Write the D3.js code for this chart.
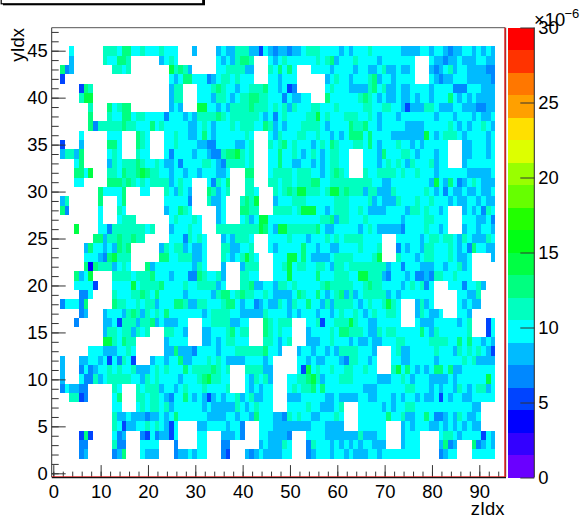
<!DOCTYPE html>
<html>
<head>
<meta charset="utf-8">
<script src="https://cdn.jsdelivr.net/npm/d3@7"></script>
<style>
  html, body { margin: 0; padding: 0; background: #fff; }
  text { font-family: "Liberation Sans", Arial, sans-serif; fill: #000; }
</style>
</head>
<body>
<svg id="chart"></svg>
<script>
var width = 584;
var height = 518;

// ylabels of the filled rows, top row first
var rowIds = [45,44,43,42,41,40,39,38,37,36,35,34,33,32,31,30,29,28,27,26,25,24,
              23,22,21,20,19,18,17,16,15,14,13,12,11,10,9,8,7,6,5,4,3,2];
var colFirst = 2;
var colLast = 93;

// one string per row, columns 2..93 in blocks of ten. "." = empty bin,
// a digit = colour band
var cellRows = [
  "..6......7 7768866766 67666...5. ...5655777 5536545545 5677766665 6566676666 6655556656 6545566565 65",
  "..5......7 66887..... .5676..... ...6565788 7...656766 6666767856 6676666566 66666...65 5455655566 55",
  "845....... .7767..... ...97875.. ...6677775 5...768686 ...6666566 6656655675 56556...54 5675665555 44",
  "3......... .......... ...6568866 6456776766 6...665666 ......5676 6566678566 56666...65 4556665555 54",
  "....387... .......... ...577...6 6678766566 7778665634 ......6766 6555578675 5655666656 6664446665 55",
  "....799... .......... ...577...6 6657765677 8877666465 566...8666 6667876565 5655656656 6686565655 55",
  "......7... 86788..... ...565...9 9665657777 8777676757 6667766676 6666776677 6653555776 5556655544 55",
  "......8... 7668867766 6646665657 7778767777 7765646766 6677967666 7776676566 6566666665 6665666565 56",
  "......8477 7778776668 6766666556 7656667677 7668756566 6777765666 6877866566 6665555666 6676565667 65",
  "....6..... 666...876. ..66766556 8656666667 6...657666 7766766565 6888686666 5555555965 6777656666 56",
  "3...5..... 886...876. ..66766665 5446666556 7...767867 6665676876 6677686566 6766565666 66...55666 56",
  "57758..... 676...766. ..64666656 6544788976 7...668667 6567656776 6...666586 6677656665 66...55666 56",
  "...68..... 5767778766 7655646666 7765477776 7...668665 5665656776 6...666567 6765766675 66...56666 66",
  "...8869... 7768778987 7665665665 666556...8 8...677776 7776656787 6...766777 7676676665 6666665555 56",
  "...66..... 8887876767 77756766.. .64768...7 7...776776 7778866777 7777776655 6666666659 6586456765 55",
  "........86 6668...66. ..765765.. .87567...7 76...76787 9977767997 8777577555 7666666765 6465565565 56",
  "57......8. ..68...... ..666664.. .7556...78 79...56667 7766666677 7666675655 5766676676 6656556656 55",
  "84......6. ..76...... ..566876.. ...56...88 77...77776 7999665677 7667655556 6665776766 56...56564 76",
  "........6. ..6777.... ...6766676 ...56...67 5699666666 6666677857 7666766666 6656666776 66...66655 64",
  "...9....66 4777777767 ...5666766 ...7777777 7798659977 7777865566 6665676555 5546666766 56...56656 65",
  ".......885 77877877.. ...6664767 6...565777 6...666676 6656667676 77776666.. .666665677 6776576555 76",
  ".....58665 65878..... .576775655 6...775566 7...656666 6866566556 66676667.. .465665776 6676564866 55",
  ".....66654 89777..... .886677755 6...765679 76...66699 6865555677 77666679.. .766656776 6676556... .5",
  ".....82877 75676...85 6666666657 6...5...57 77...66796 7766776577 6777777775 6646665556 6566756... ..",
  "...8569... .777767778 6665666448 76675...77 66...66696 6666866677 7669977754 6665644547 7667666... ..",
  "...66663.. .666696777 7866667667 77756...77 8556657767 6666678777 7766787766 665676746. ..66646675 ..",
  "....446... .766677876 8666665666 6657886787 7667655556 8766865678 5756777775 656666666. ....66557. ..",
  "466648.... .877667677 5666887557 7666788656 6456557657 6686657577 7765676679 76...5756. ....65655. ..",
  "....45...5 6665787576 7686666666 5677776655 5557666656 5666566567 6676567667 76...57655 6...665... ..",
  "...4.....5 5637775778 5655566... 6677775566 ...876777. ..66736677 7976655666 66...65556 6666567... 36",
  ".........5 776775767. ..77665... 5566678677 ...876766. ..56666768 8777655767 7666668657 6666667... 36",
  ".........9 976877.... ..56666... 5565677666 ...776567. ..55566766 6565565566 6776666677 7766868665 65",
  "......6665 556676.... ..55855546 6665666777 7778665... 5665665657 7776665... 6755666667 6665767676 53",
  "5...556656 364763...5 6656685566 6767655556 66656..... 6656556665 4776656... 6655666665 6666676755 55",
  "5...464566 7676675556 7676668677 778767...7 77755..... 6396766766 7766766... 7968656568 8685566666 66",
  "5...644756 7777766576 7666656667 897766...6 57675...66 7789756667 7766666555 6676566655 5565666666 96",
  "465544.... .76...7677 7566567666 766667...6 56566...67 6778686666 6666555666 6667766656 5665765677 56",
  "..7734.... .68...7767 7654668656 5356566756 75566...55 5666665565 5556655666 5656656556 3656655666 66",
  ".......... .66...6767 7675666666 5655555765 67666...66 6676655567 ...6666656 5667766666 666666655. ..",
  ".......... .755655545 5656866666 6555566566 5866655476 7665566676 ...6666668 6675566864 456576556. ..",
  ".......... .763556676 76536....5 566665664. ..66655555 5556665555 ...666666. ..56566655 656565655. ..",
  "....383... .645...436 45536....6 6...55564. ..6655554. ..66665555 555755566. ..5666.... 6776566663 65",
  "....44.... .744...666 6...4....6 6...44.... ..5655576. ..47666565 656566555. ..5666.... 5845...845 65",
  "....45.... .458...655 5...455656 6...43...5 456555566. ..45666566 5655566566 666666.... 4566...666 66"
];

// value (in 1e-6) at the middle of each band code that occurs
var bandValues = { "2": 3.75, "3": 5.25, "4": 6.75, "5": 8.25, "6": 9.75, "7": 11.25, "8": 12.75, "9": 14.25 };

var bandColors = ["#6a00ff", "#3300ff", "#0000ff", "#0044ff", "#0088ff", "#00bbff", "#00ffff",
  "#00ffc0", "#00ff80", "#00ff44", "#00ff15", "#22ff00", "#66ff00", "#99ff00", "#ddff00",
  "#ffe000", "#ffa000", "#ff7700", "#ff3300", "#ff0000"];

var xMajor = [0, 10, 20, 30, 40, 50, 60, 70, 80, 90];
var yMajor = [0, 5, 10, 15, 20, 25, 30, 35, 40, 45];
var zMajor = [0, 5, 10, 15, 20, 25, 30];

var labelSize = "18.4px";

var svg = d3.select("#chart")
  .attr("width", width)
  .attr("height", height)
  .style("display", "block");

// axis scales, fitted to the tick marks
var x = d3.scaleLinear().domain([0, 90]).range([53.3, 479.3]);
var y = d3.scaleLinear().domain([0, 45]).range([473.3, 50.7]);
var z = d3.scaleLinear().domain([0, 30]).range([477.5, 27.5]);

// the bins do not sit quite on the axis numbers, so they get their own band scales
var xBin = d3.scaleBand().domain(d3.range(colFirst, colLast + 1)).range([60, 495.3]);
var yBin = d3.scaleBand().domain(rowIds).range([46.3, 458.7]);
var color = d3.scaleQuantize().domain([0, 30]).range(bandColors);

var cells = [];
cellRows.forEach(function(row, i) {
  var codes = row.replace(/ /g, "");
  d3.range(colFirst, colLast + 1).forEach(function(col, j) {
    var c = codes[j];
    if (c && c !== ".") {
      cells.push({ col: col, row: rowIds[i], value: bandValues[c] });
    }
  });
});

svg.append("g").selectAll("rect")
  .data(cells)
  .enter().append("rect")
  .attr("x", function(d) { return xBin(d.col); })
  .attr("y", function(d) { return yBin(d.row); })
  .attr("width", xBin.bandwidth())
  .attr("height", yBin.bandwidth())
  .attr("shape-rendering", "crispEdges")
  .style("fill", function(d) { return color(d.value); });

// palette
var paletteX = 507.5;
var paletteW = 26.8;
svg.append("g").selectAll("rect")
  .data(bandColors)
  .enter().append("rect")
  .attr("x", paletteX)
  .attr("y", function(d, i) { return z((i + 1) * 1.5); })
  .attr("width", paletteW)
  .attr("height", z(0) - z(1.5))
  .attr("shape-rendering", "crispEdges")
  .style("fill", function(d) { return d; });

// frame
var frameL = 51.7, frameR = 505, frameT = 27.7, frameB = 477;
svg.append("line").attr("x1", frameL).attr("x2", frameR).attr("y1", frameT).attr("y2", frameT)
  .style("stroke", "#555").style("stroke-width", 1);
svg.append("line").attr("x1", frameR + 0.7).attr("x2", frameR + 0.7).attr("y1", frameT).attr("y2", frameB)
  .style("stroke", "#333").style("stroke-width", 1);
svg.append("line").attr("x1", frameR).attr("x2", frameR).attr("y1", frameT).attr("y2", frameB)
  .style("stroke", "#e01010").style("stroke-width", 1.4);

function styleAxis(g) {
  g.select(".domain").remove();
  g.selectAll("line").style("stroke", "#333").style("stroke-width", 1);
  g.selectAll("text").style("font-size", labelSize).style("fill", "#000");
}

svg.append("g")
  .attr("transform", "translate(0," + (frameB + 0.6) + ")")
  .call(d3.axisBottom(x).tickValues(d3.range(0, 96, 2)).tickSizeInner(-6).tickFormat(""))
  .call(styleAxis);
svg.append("g")
  .attr("transform", "translate(0," + (frameB + 0.6) + ")")
  .call(d3.axisBottom(x).tickValues(xMajor).tickSizeInner(-12.5).tickPadding(7).tickFormat(d3.format("d")))
  .call(styleAxis)
  .call(function(g) { g.selectAll("text").attr("dy", "0.71em"); });

svg.append("g")
  .attr("transform", "translate(" + frameL + ",0)")
  .call(d3.axisLeft(y).tickValues(d3.range(0, 48)).tickSizeInner(-7).tickFormat(""))
  .call(styleAxis);
svg.append("g")
  .attr("transform", "translate(" + frameL + ",0)")
  .call(d3.axisLeft(y).tickValues(yMajor).tickSizeInner(-14).tickPadding(4).tickFormat(d3.format("d")))
  .call(styleAxis);

svg.append("line").attr("x1", frameL).attr("x2", frameL).attr("y1", frameT).attr("y2", frameB)
  .style("stroke", "#333").style("stroke-width", 1);
svg.append("line").attr("x1", frameL).attr("x2", frameR + 1).attr("y1", frameB - 0.4).attr("y2", frameB - 0.4)
  .style("stroke", "#d82020").style("stroke-width", 0.8);
svg.append("line").attr("x1", frameL).attr("x2", frameR + 1).attr("y1", frameB + 0.6).attr("y2", frameB + 0.6)
  .style("stroke", "#111").style("stroke-width", 1.1);

// palette axis
svg.append("g")
  .attr("transform", "translate(" + (paletteX + paletteW) + ",0)")
  .call(d3.axisRight(z).tickValues(zMajor).tickSizeInner(-14).tickPadding(4).tickFormat(d3.format("d")))
  .call(styleAxis);
svg.append("line").attr("x1", paletteX + paletteW).attr("x2", paletteX + paletteW).attr("y1", z(30)).attr("y2", z(0))
  .style("stroke", "#222").style("stroke-width", 1);

// exponent
svg.append("text").attr("x", 534).attr("y", 26).style("font-size", "18.4px").text("×10");
svg.append("text").attr("x", 564.5).attr("y", 17.5).style("font-size", "13px").text("−6");

// axis titles
svg.append("text").attr("x", 504.5).attr("y", 515).attr("text-anchor", "end").style("font-size", labelSize).text("zIdx");
svg.append("text").attr("transform", "translate(23.5,28) rotate(-90)").attr("text-anchor", "end").style("font-size", labelSize).text("yIdx");

// stats box, cut off by the top of the canvas
svg.append("rect").attr("x", 3).attr("y", -10).attr("width", 202).attr("height", 15.3).style("fill", "#000");
svg.append("rect").attr("x", 1.2).attr("y", -12).attr("width", 201.6).attr("height", 15.8)
  .style("fill", "#fff").style("stroke", "#000").style("stroke-width", 1.2);
</script>
</body>
</html>
